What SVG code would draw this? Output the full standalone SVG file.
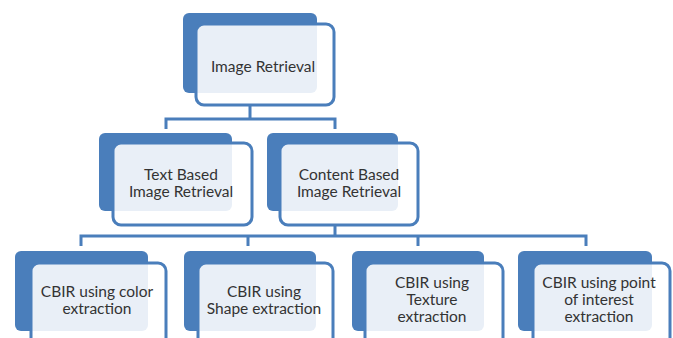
<svg xmlns="http://www.w3.org/2000/svg" width="673" height="338" viewBox="0 0 673 338">
<style>
.back{fill:#4a7ebb}
.front{fill:#ffffff;fill-opacity:0.88;stroke:#4a7ebb;stroke-width:3}
.conn{fill:none;stroke:#4a7ebb;stroke-width:3}
text{font-family:Lato,"Liberation Sans",sans-serif;font-size:15.5px;fill:#333;text-anchor:middle}
</style>
<rect width="673" height="338" fill="#fff"/>
<g id="connectors">
<path class="conn" d="M250,105 V119 M166,129 V119 H335 V129"/>
<path class="conn" d="M335,225 V236 M81,246 V236 H586 V246 M248,236 V246 M418,236 V246"/>
</g>
<g id="n-image-retrieval">
<rect class="back" x="183" y="13" width="134" height="80" rx="6"/>
<rect class="front" x="196" y="24" width="138" height="81" rx="8"/>
<text x="263" y="72">Image Retrieval</text>
</g>
<g id="n-text-based">
<rect class="back" x="99" y="133" width="133" height="78" rx="6"/>
<rect class="front" x="113" y="143" width="139" height="82" rx="8"/>
<text x="181" y="180">Text Based</text>
<text x="181" y="197">Image Retrieval</text>
</g>
<g id="n-content-based">
<rect class="back" x="267" y="133" width="131" height="78" rx="6"/>
<rect class="front" x="280" y="143" width="138" height="82" rx="8"/>
<text x="349" y="180">Content Based</text>
<text x="349" y="197">Image Retrieval</text>
</g>
<g id="n-color">
<rect class="back" x="15" y="251" width="133" height="80" rx="6"/>
<rect class="front" x="31" y="263" width="135" height="90" rx="8"/>
<text x="97" y="297">CBIR using color</text>
<text x="97" y="314">extraction</text>
</g>
<g id="n-shape">
<rect class="back" x="184" y="251" width="132" height="80" rx="6"/>
<rect class="front" x="198" y="263" width="135" height="90" rx="8"/>
<text x="264" y="297">CBIR using</text>
<text x="264" y="314">Shape extraction</text>
</g>
<g id="n-texture">
<rect class="back" x="352" y="251" width="132" height="80" rx="6"/>
<rect class="front" x="365" y="263" width="138" height="90" rx="8"/>
<text x="432" y="288">CBIR using</text>
<text x="432" y="305">Texture</text>
<text x="432" y="322">extraction</text>
</g>
<g id="n-point">
<rect class="back" x="518" y="251" width="134" height="80" rx="6"/>
<rect class="front" x="533" y="263" width="137" height="90" rx="8"/>
<text x="599" y="288">CBIR using point</text>
<text x="599" y="305">of interest</text>
<text x="599" y="322">extraction</text>
</g>
</svg>
